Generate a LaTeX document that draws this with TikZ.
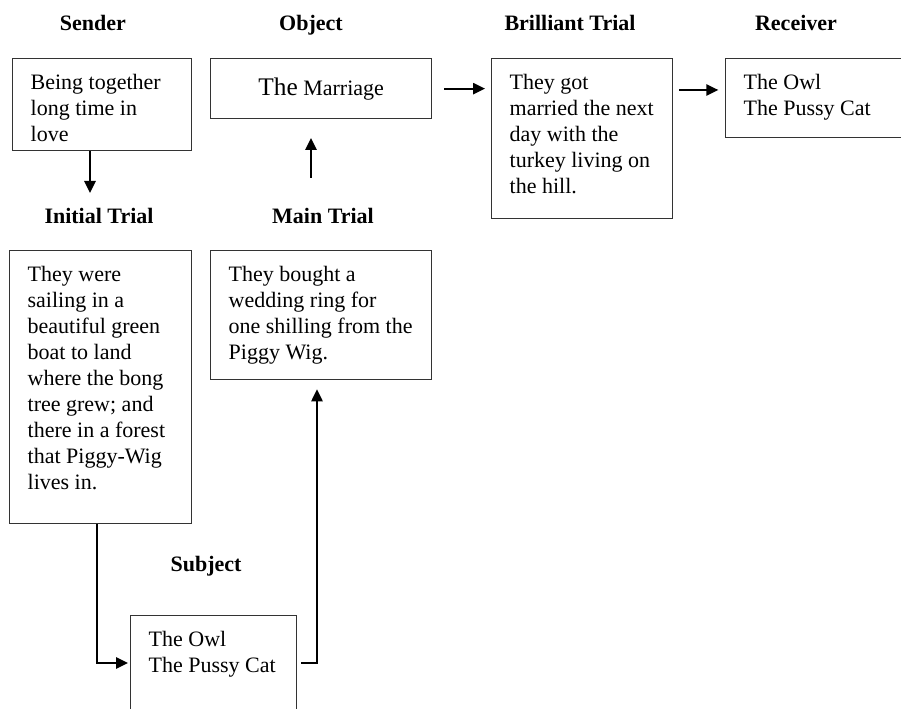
\documentclass[tikz,border=0pt]{standalone}
\usepackage{fontspec}
\setmainfont{Liberation Serif}
\usetikzlibrary{arrows.meta}
\newcommand{\topbox}[3]{\parbox[c][#2][t]{#1}{\begin{tabular}[t]{@{}l@{}}#3\end{tabular}}}

\begin{document}
\begin{tikzpicture}[x=0.75pt,y=-0.75pt,font=\fontsize{16.5}{19.5}\selectfont]
    \clip (0,0) rectangle (901,709);

    \begin{scope}[every node/.style={draw=black!80,line width=1pt,anchor=north west,
        inner xsep=13.5pt,inner ysep=9.3pt}]
      \node (sender) at (12,58) {\topbox{107.25pt}{50.4pt}{Being together\\long time in\\love}};
      \node[minimum width=165.75pt,minimum height=45pt] (object) at (210,58)
        {{\fontsize{19}{22}\selectfont The} Marriage};
      \node (brilliant) at (491,58) {\topbox{108.75pt}{101.4pt}{They got\\married the next\\day with the\\turkey living on\\the hill.}};
      \node (receiver) at (725,58) {\topbox{105pt}{40.65pt}{The Owl\\The Pussy Cat}};
      \node (initial) at (9,250) {\topbox{109.5pt}{186.15pt}{They were\\sailing in a\\beautiful green\\boat to land\\where the bong\\tree grew; and\\there in a forest\\that Piggy-Wig\\lives in.}};
      \node (main) at (210,250) {\topbox{138.75pt}{78.15pt}{They bought a\\wedding ring for\\one shilling from the\\Piggy Wig.}};
      \node (subject) at (130,615) {\topbox{97.5pt}{78.9pt}{The Owl\\The Pussy Cat}};
    \end{scope}

    \begin{scope}[every node/.style={font=\fontsize{16.5}{19.5}\selectfont\bfseries,anchor=base}]
      \node (sendertitle) at (93,31) {Sender};
      \node (objecttitle) at (311,31) {Object};
      \node (brillianttitle) at (570,31) {Brilliant Trial};
      \node (receivertitle) at (796,31) {Receiver};
      \node (initialtitle) at (99,224) {Initial Trial};
      \node (maintitle) at (323,224) {Main Trial};
      \node (subjecttitle) at (206,571) {Subject};
    \end{scope}

    \coordinate (sendtip) at (90,193);
    \coordinate (maintail) at (311,178);
    \coordinate (maintip) at (311,138);
    \coordinate (toprow) at (0,90);
    \coordinate (downleg) at (97,0);
    \coordinate (upleg) at (317,0);
    \coordinate (subjrow) at (0,663);

    \begin{scope}[line width=1.3pt,>={Triangle[length=9pt,width=8.5pt]}]
      \draw[->] (sender.south -| sendtip) -- (sendtip);
      \draw[->] (maintail) -- (maintip);
      \draw[->,shorten <=9pt,shorten >=4.5pt] (object.east) -- (object.east -| brilliant.west);
      \draw[->,shorten <=4.5pt,shorten >=5pt] (brilliant.east |- toprow) -- (receiver.west |- toprow);
      \draw[->,shorten >=1.5pt] (initial.south -| downleg) |- (subject.west |- subjrow);
      \draw[->,shorten <=3pt,shorten >=6.75pt] (subject.east |- subjrow) -| (main.south -| upleg);
    \end{scope}
\end{tikzpicture}
\end{document}
